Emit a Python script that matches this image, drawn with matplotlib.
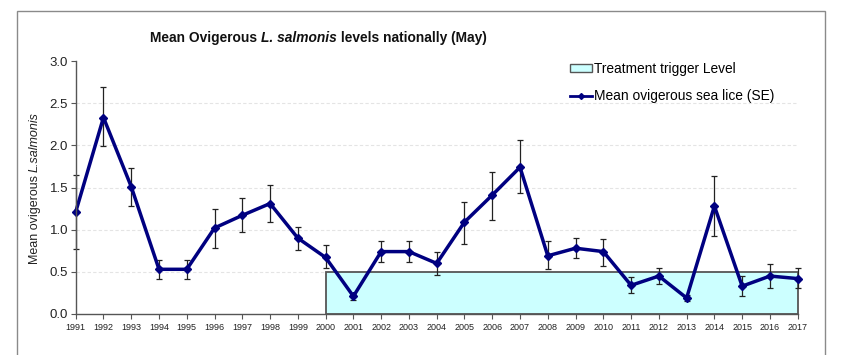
import matplotlib
matplotlib.use("Agg")
import matplotlib.pyplot as plt
from matplotlib.patches import Rectangle
from matplotlib.lines import Line2D
import numpy as np

plt.rcParams['font.family'] = ['Liberation Sans', 'DejaVu Sans']

years = list(range(1991, 2018))
mean_lice = [1.21, 2.33, 1.51, 0.53, 0.53, 1.02, 1.17, 1.31, 0.90, 0.67,
             0.21, 0.74, 0.74, 0.60, 1.09, 1.41, 1.74, 0.69, 0.78, 0.74,
             0.34, 0.45, 0.19, 1.28, 0.33, 0.45, 0.42]
err_upper = [1.65, 2.69, 1.73, 0.64, 0.64, 1.25, 1.38, 1.53, 1.03, 0.82,
             0.24, 0.87, 0.87, 0.73, 1.33, 1.68, 2.06, 0.86, 0.90, 0.89,
             0.44, 0.54, 0.23, 1.64, 0.45, 0.59, 0.55]
err_lower = [0.77, 1.99, 1.28, 0.42, 0.41, 0.78, 0.97, 1.09, 0.76, 0.55,
             0.17, 0.62, 0.62, 0.46, 0.83, 1.11, 1.43, 0.53, 0.66, 0.57,
             0.25, 0.36, 0.16, 0.92, 0.21, 0.31, 0.31]
trigger_start = 2000
trigger_end = 2017
trigger_level = 0.5
y_ticks = [0.0, 0.5, 1.0, 1.5, 2.0, 2.5, 3.0]

W, H = 850, 355
fig = plt.figure(figsize=(W / 100, H / 100), dpi=100)
ax = fig.add_axes([75.7 / W, 1 - 314 / H, (797.7 - 75.7) / W, (314 - 61) / H])

# outer frame
fig.patches.append(Rectangle((17 / W, -0.2), (825 - 17) / W, 1.2 - 11 / H,
                             transform=fig.transFigure, fill=False,
                             edgecolor='#8a8a8a', lw=1.0, clip_on=False))

ax.set_xlim(years[0], years[-1])
ax.set_ylim(0, 3.0)

# grid
for yv in y_ticks[1:-1]:
    ax.axhline(yv, color='#e4e4e4', lw=0.8, ls=(0, (3, 2)), zorder=0)

# trigger level rectangle
ax.add_patch(Rectangle((trigger_start, 0), trigger_end - trigger_start, trigger_level,
                       facecolor='#ccffff', edgecolor='#555555', lw=1.3, zorder=1,
                       clip_on=False))

y = np.array(mean_lice)
yerr = [y - np.array(err_lower), np.array(err_upper) - y]
ax.errorbar(years, y, yerr=yerr, fmt='none', ecolor='#222222', elinewidth=0.9,
            capsize=2, capthick=0.9, zorder=2, clip_on=False)
ax.plot(years, y, color='#000080', lw=2.5, marker='D', markersize=4,
        zorder=3, clip_on=False)

for s in ['top', 'right']:
    ax.spines[s].set_visible(False)
for s in ['left', 'bottom']:
    ax.spines[s].set_color('#555555')
    ax.spines[s].set_linewidth(1.0)
    ax.spines[s].set_zorder(4)

ax.set_xticks(years)
ax.set_xticklabels([str(v) for v in years], fontsize=6.5)
ax.set_yticks(y_ticks)
ax.set_yticklabels([f"{v:.1f}" for v in y_ticks], fontsize=9.5)
ax.tick_params(axis='both', direction='out', length=3.5, width=0.8, color='#555555',
               labelcolor='#222222')
ax.tick_params(axis='x', pad=3)
ax.tick_params(axis='y', pad=2)

# title with mixed styles
t1 = fig.text(150 / W, 1 - 38 / H, "Mean Ovigerous ", fontsize=9.9, fontweight='bold',
              va='center', ha='left', color='#111111')
t2 = fig.text(0, 0, "L. salmonis", fontsize=9.9, fontweight='bold', style='italic',
              color='#111111')
t3 = fig.text(0, 0, " levels nationally (May)", fontsize=9.9, fontweight='bold',
              color='#111111')
fig.canvas.draw()
r = fig.canvas.get_renderer()
def place_after(prev, cur):
    bb = prev.get_window_extent(r)
    cur.set_position((bb.x1 / W, prev.get_position()[1]))
    cur.set_va('center')
    cur.set_ha('left')
place_after(t1, t2)
fig.canvas.draw()
place_after(t2, t3)

# y label with mixed styles
yl1 = fig.text(35 / W, 1 - 264 / H, "Mean ovigerous ", rotation=90, fontsize=9,
               va='bottom', ha='center', color='#222222')
fig.canvas.draw()
bb = yl1.get_window_extent(r)
yl2 = fig.text(35 / W, bb.y1 / H, "L.salmonis", rotation=90, fontsize=9,
               style='italic', va='bottom', ha='center', color='#222222')

# legend
handles = [Rectangle((0, 0), 1, 1, facecolor='#ccffff', edgecolor='#555555', lw=1.0),
           Line2D([0], [0], color='#000080', lw=2, marker='D', markersize=3)]
labels = ["Treatment trigger Level", "Mean ovigerous sea lice (SE)"]
fig.legend(handles, labels, loc='upper left', bbox_to_anchor=(570 / W, 1 - 62 / H),
           frameon=False, fontsize=9.9, handlelength=1.6, handleheight=0.5,
           handletextpad=0.15, labelspacing=0.95, borderaxespad=0, borderpad=0)

fig.savefig("out.png", dpi=100)
